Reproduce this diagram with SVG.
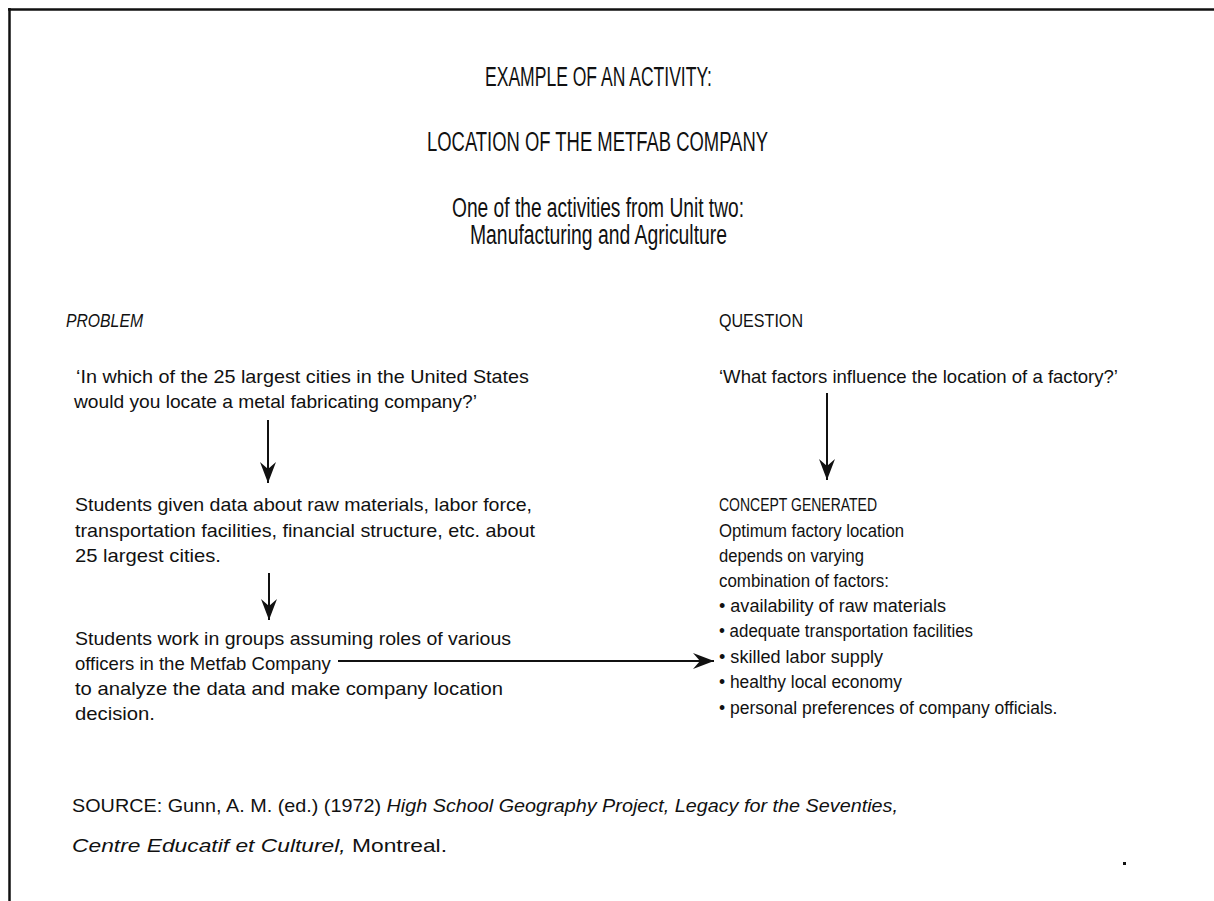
<svg xmlns="http://www.w3.org/2000/svg" width="1214" height="901" viewBox="0 0 1214 901">
<style>
  text { font-family: "Liberation Sans", Arial, sans-serif; fill: #111; }
  .h { font-size: 27px; font-weight: normal; }
  .b { font-size: 18.5px; }
  .r { font-size: 17.5px; }
  .s { font-size: 19px; }
  .i { font-style: italic; }
  .conn line { stroke: #111; stroke-width: 2; fill: none; }
</style>
<defs>
  <marker id="ah" markerUnits="userSpaceOnUse" markerWidth="24" markerHeight="18" viewBox="-22 -9 24 18" refX="0" refY="0" orient="auto">
    <path d="M0,0 L-21,-8 L-14,0 L-21,8 Z" fill="#111"/>
  </marker>
</defs>
<rect width="1214" height="901" fill="#fff"/>
<g id="frame">
  <line x1="8" y1="9.5" x2="1214" y2="9.5" stroke="#111" stroke-width="2.5"/>
  <line x1="9.5" y1="8" x2="9.5" y2="901" stroke="#111" stroke-width="2.5"/>
</g>
<g id="title">
  <text class="h" x="485" y="86" textLength="227" lengthAdjust="spacingAndGlyphs">EXAMPLE OF AN ACTIVITY:</text>
  <text class="h" x="427" y="151" textLength="341" lengthAdjust="spacingAndGlyphs">LOCATION OF THE METFAB COMPANY</text>
  <text class="h" x="452" y="217" textLength="292" lengthAdjust="spacingAndGlyphs">One of the activities from Unit two:</text>
  <text class="h" x="470" y="244" textLength="257" lengthAdjust="spacingAndGlyphs">Manufacturing and Agriculture</text>
</g>
<g id="problem-label"><text class="r i" x="66" y="327" textLength="77" lengthAdjust="spacingAndGlyphs">PROBLEM</text></g>
<g id="question-label"><text class="r" x="719" y="327" textLength="84" lengthAdjust="spacingAndGlyphs">QUESTION</text></g>
<g id="problem">
  <text class="b" x="76" y="383" textLength="453" lengthAdjust="spacingAndGlyphs">‘In which of the 25 largest cities in the United States</text>
  <text class="b" x="74" y="408" textLength="403" lengthAdjust="spacingAndGlyphs">would you locate a metal fabricating company?’</text>
</g>
<g id="data">
  <text class="b" x="75" y="511" textLength="457" lengthAdjust="spacingAndGlyphs">Students given data about raw materials, labor force,</text>
  <text class="b" x="75" y="537" textLength="460" lengthAdjust="spacingAndGlyphs">transportation facilities, financial structure, etc. about</text>
  <text class="b" x="75" y="562" textLength="146" lengthAdjust="spacingAndGlyphs">25 largest cities.</text>
</g>
<g id="groups">
  <text class="b" x="75" y="645" textLength="436" lengthAdjust="spacingAndGlyphs">Students work in groups assuming roles of various</text>
  <text class="b" x="75" y="670">officers in the Metfab Company</text>
  <text class="b" x="75" y="695" textLength="428" lengthAdjust="spacingAndGlyphs">to analyze the data and make company location</text>
  <text class="b" x="75" y="720" textLength="80" lengthAdjust="spacingAndGlyphs">decision.</text>
</g>
<g id="question">
  <text class="b" x="719" y="383" textLength="399" lengthAdjust="spacingAndGlyphs">‘What factors influence the location of a factory?’</text>
</g>
<g id="concept">
  <text class="r" x="719" y="511" textLength="158" lengthAdjust="spacingAndGlyphs">CONCEPT GENERATED</text>
  <text class="r" x="719" y="537" textLength="185" lengthAdjust="spacingAndGlyphs">Optimum factory location</text>
  <text class="r" x="719" y="562" textLength="145" lengthAdjust="spacingAndGlyphs">depends on varying</text>
  <text class="r" x="719" y="587" textLength="170" lengthAdjust="spacingAndGlyphs">combination of factors:</text>
  <text class="r" x="719" y="612" textLength="227" lengthAdjust="spacingAndGlyphs">• availability of raw materials</text>
  <text class="r" x="719" y="637" textLength="254" lengthAdjust="spacingAndGlyphs">• adequate transportation facilities</text>
  <text class="r" x="719" y="663" textLength="164" lengthAdjust="spacingAndGlyphs">• skilled labor supply</text>
  <text class="r" x="719" y="688" textLength="183" lengthAdjust="spacingAndGlyphs">• healthy local economy</text>
  <text class="r" x="719" y="714">• personal preferences of company officials.</text>
</g>
<g id="source">
  <text class="s" x="72" y="812" textLength="826" lengthAdjust="spacingAndGlyphs">SOURCE: Gunn, A. M. (ed.) (1972) <tspan class="i">High School Geography Project, Legacy for the Seventies,</tspan></text>
  <text class="s" x="72" y="852" textLength="375" lengthAdjust="spacingAndGlyphs"><tspan class="i">Centre Educatif et Culturel,</tspan> Montreal.</text>
  <rect x="1123" y="862" width="3" height="3" fill="#111"/>
</g>
<g class="conn" id="connectors">
  <line x1="268" y1="420" x2="268" y2="483" marker-end="url(#ah)"/>
  <line x1="269" y1="573" x2="269" y2="620" marker-end="url(#ah)"/>
  <line x1="827" y1="393" x2="827" y2="480" marker-end="url(#ah)"/>
  <line x1="338" y1="661" x2="714" y2="661" marker-end="url(#ah)"/>
</g>
</svg>
